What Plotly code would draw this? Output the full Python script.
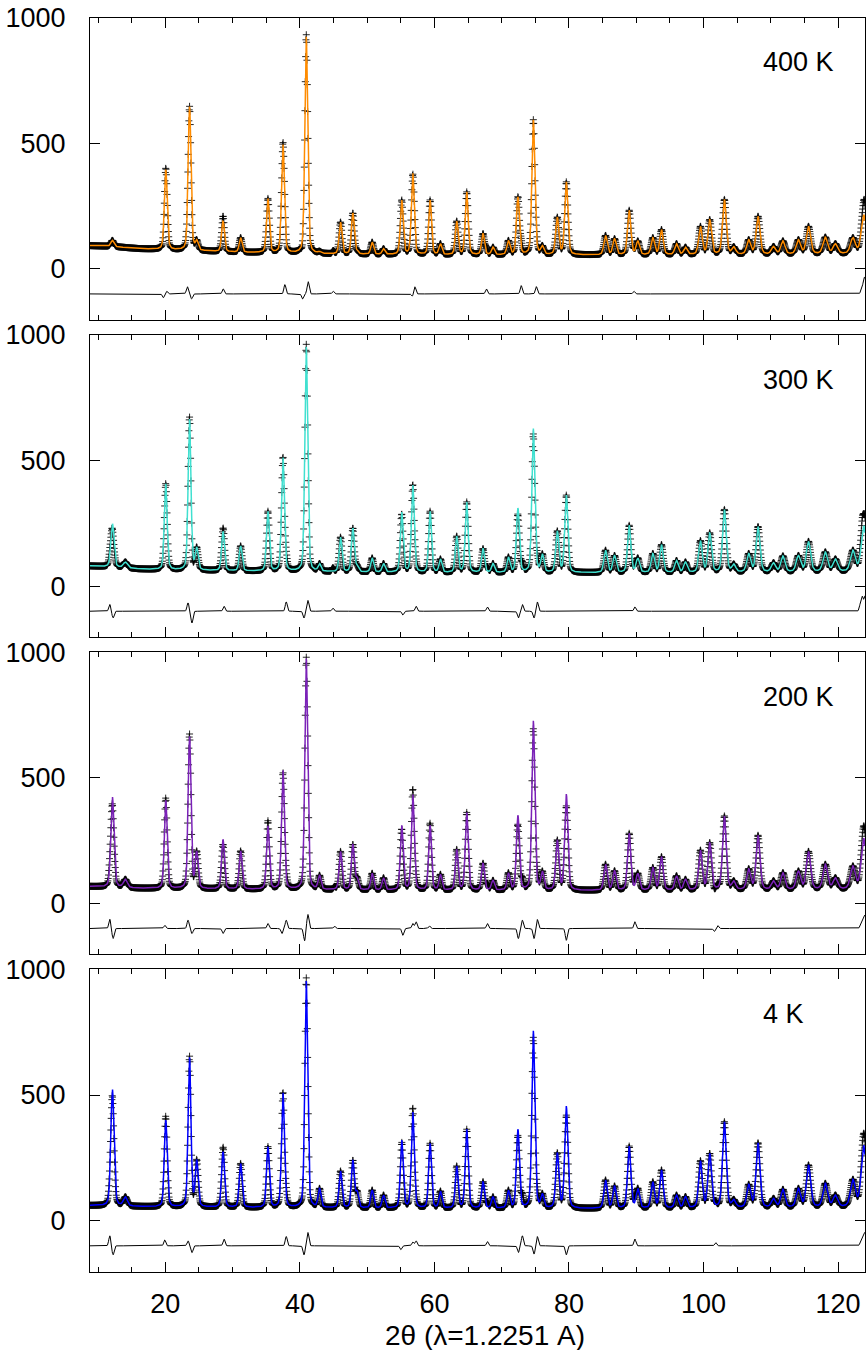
import numpy as np
import plotly.graph_objects as go

# ---------------- data ----------------
temps = ["400 K", "300 K", "200 K", "4 K"]
calc_colors = ["#ff8c00", "#40e0d0", "#7b22b8", "#0000ff"]

x_ticks = [20, 40, 60, 80, 100, 120]
y_ticks = [0, 500, 1000]
x_title = "2θ (λ=1.2251 A)"

# Bragg peak positions (2theta, deg) and widths (FWHM, deg)
peak_pos = [12.13, 14.06, 20.06, 23.60, 24.66, 28.57, 31.19, 35.25, 37.48, 40.94,
            42.92, 46.04, 47.87, 48.50, 50.74, 52.43, 55.14, 56.78, 59.35, 60.89,
            63.31, 64.80, 67.22, 68.70, 70.99, 72.41, 74.70, 76.04, 78.26, 79.60,
            85.43, 86.77, 88.95, 90.23, 92.46, 93.75, 95.98, 97.31, 99.54, 100.92,
            103.10, 104.50, 106.71, 108.10, 110.40, 111.80, 114.10, 115.60, 118.10, 119.60,
            122.20, 123.80]
peak_fwhm = [0.55, 0.7, 0.5, 0.5, 0.5, 0.5, 0.5, 0.5, 0.5, 0.5,
             0.5, 0.5, 0.5, 0.5, 0.5, 0.5, 0.5, 0.5, 0.5, 0.5,
             0.5, 0.52, 0.52, 0.52, 0.52, 0.52, 0.52, 0.52, 0.55, 0.55,
             0.58, 0.58, 0.58, 0.58, 0.6, 0.6, 0.6, 0.6, 0.62, 0.62,
             0.65, 0.65, 0.68, 0.68, 0.72, 0.72, 0.75, 0.75, 0.8, 0.8,
             0.85, 0.85]

# peak-top intensities for each temperature
top_400K = [113, 82, 395, 646, 116, 190, 124, 280, 497, 924,
            70, 186, 222, 75, 106, 80, 274, 382, 274, 100,
            190, 306, 140, 86, 113, 287, 593, 93, 206, 346,
            133, 120, 233, 111, 124, 156, 100, 86, 169, 196,
            276, 88, 116, 209, 89, 111, 116, 169, 126, 100,
            124, 215]
top_300K = [249, 96, 408, 665, 156, 218, 160, 298, 514, 953,
            90, 195, 231, 85, 112, 90, 295, 404, 298, 108,
            199, 335, 149, 90, 116, 311, 627, 129, 220, 362,
            143, 122, 242, 112, 130, 165, 102, 96, 181, 212,
            305, 88, 130, 237, 93, 120, 122, 178, 136, 108,
            143, 240]
top_200K = [425, 96, 411, 665, 209, 255, 209, 309, 532, 976,
            112, 207, 235, 105, 120, 102, 311, 435, 311, 116,
            215, 362, 160, 92, 122, 351, 727, 129, 253, 435,
            156, 130, 279, 120, 143, 186, 110, 96, 212, 242,
            348, 90, 138, 271, 90, 122, 129, 207, 156, 102,
            149, 260]
top_4K = [524, 95, 401, 650, 244, 275, 228, 295, 511, 955,
          129, 198, 241, 120, 122, 102, 321, 434, 308, 118,
          218, 364, 155, 95, 122, 364, 756, 109, 271, 456,
          162, 138, 297, 129, 155, 202, 102, 96, 239, 268,
          394, 85, 145, 310, 89, 125, 129, 222, 149, 102,
          165, 300]

# background levels at knots
bg_knots = [8.8, 12, 16, 20, 30, 45, 60, 90, 110, 124]
bg_400K = [92, 89, 80, 76, 66, 58, 55, 55, 57, 60]
bg_300K = [80, 76, 68, 64, 60, 56, 53, 53, 55, 58]
bg_200K = [67, 64, 60, 58, 56, 53, 51, 51, 53, 56]
bg_4K = [60, 58, 56, 54, 52, 50, 48, 48, 51, 55]

# difference curve features (obs - calc) : positions and signed amplitudes
diff_pos_400K = [19.7, 20.2, 23.27, 23.92, 28.6, 37.77, 40.4, 41.23, 44.95, 56.73, 57.08,
                 67.72, 72.9, 75.15, 89.64, 123.5, 123.8, 124.0]
diff_amp_400K = [-15, 10, 29, -20, 20, 37, -20, 49, 11, -10, 29,
                 20, 33, 29, 11, 20, 35, 47]
diff_pos_300K = [11.74, 12.23, 23.37, 23.96, 28.72, 37.97, 40.6, 41.19, 44.9, 55.3, 57.27,
                 67.87, 72.47, 73.07, 74.8, 75.29, 89.79, 123.3, 123.6, 124.0]
diff_amp_300K = [27, -27, 33, -47, 20, 37, -27, 43, 13, -15, 20,
                 17, -27, 27, -27, 37, 17, 25, 55, 60]
diff_pos_200K = [11.74, 12.23, 19.91, 23.37, 23.96, 28.57, 35.25, 37.33, 37.97, 40.69, 41.19,
                 45.15, 55.3, 56.78, 57.27, 59.25, 67.87, 72.47, 73.07, 74.8, 75.29, 79.6,
                 89.79, 101.6, 102.1, 123.4, 123.7, 124.0]
diff_amp_200K = [37, -40, 13, 33, -20, -20, 20, -20, 33, -49, 56,
                 9, -27, 20, 27, 10, 20, -40, 33, -40, 36, -47,
                 27, -12, 12, 20, 35, 47]
diff_pos_4K = [11.74, 12.23, 19.91, 23.37, 23.96, 28.72, 37.97, 40.6, 41.19, 55.0, 56.78, 57.27,
               67.87, 72.47, 73.07, 74.8, 75.29, 79.6, 89.79, 101.8, 123.4, 123.7, 124.0]
diff_amp_4K = [40, -36, 23, 20, -27, 27, 37, -36, 53, -15, 15, 20,
               17, -27, 40, -33, 37, -36, 27, 13, 20, 35, 47]

diff_offset = -100
x_range = [8.8, 124.0]
y_range = [-203, 1000]
label_x = 108.5
label_y = 821

tops = [top_400K, top_300K, top_200K, top_4K]
bgs = [bg_400K, bg_300K, bg_200K, bg_4K]
dpos = [diff_pos_400K, diff_pos_300K, diff_pos_200K, diff_pos_4K]
damp = [diff_amp_400K, diff_amp_300K, diff_amp_200K, diff_amp_4K]

# ---------------- profile construction ----------------
tt = np.arange(8.8, 124.0001, 0.05)
P = np.array(peak_pos)
W = np.array(peak_fwhm)


def pv(x, x0, w, eta=0.3):
    u = (x - x0) / w
    return eta / (1 + 4 * u ** 2) + (1 - eta) * np.exp(-4 * np.log(2) * u ** 2)


M = pv(P[:, None], P[None, :], W[None, :])

FONT = "Liberation Sans, Arial, sans-serif"
fig = go.Figure()
H = 1350.0
MT, MB = 10.0, 20.0
PH = H - MT - MB
tops_px = [17.5 + 317.3 * k for k in range(4)]
panel_h = 302.3


def frac(py):
    return (H - MB - py) / PH


for k in range(4):
    bg_tt = np.interp(tt, bg_knots, bgs[k])
    bg_p = np.interp(P, bg_knots, bgs[k])
    target = np.array(tops[k], float) - bg_p
    amps = np.linalg.solve(M, target)
    amps = np.clip(amps, 0, None)
    calc = bg_tt + (amps[None, :] * pv(tt[:, None], P[None, :], W[None, :])).sum(axis=1)
    dfeat = np.zeros_like(tt)
    for p0, a0 in zip(dpos[k], damp[k]):
        dfeat += a0 * np.exp(-0.5 * ((tt - p0) / 0.15) ** 2)
    obs = calc + dfeat
    diff = diff_offset + dfeat

    xa = "x" if k == 0 else f"x{k+1}"
    ya = "y" if k == 0 else f"y{k+1}"
    fig.add_trace(go.Scatter(x=tt, y=obs, mode="markers", xaxis=xa, yaxis=ya,
                             marker=dict(symbol="cross-thin", size=5,
                                         line=dict(width=1, color="rgba(0,0,0,0.85)")),
                             hoverinfo="skip"))
    fig.add_trace(go.Scatter(x=tt, y=calc, mode="lines", xaxis=xa, yaxis=ya,
                             line=dict(color=calc_colors[k], width=1.5), hoverinfo="skip"))
    fig.add_trace(go.Scatter(x=tt, y=diff, mode="lines", xaxis=xa, yaxis=ya,
                             line=dict(color="black", width=1), hoverinfo="skip"))

    top = tops_px[k]
    bot = top + panel_h
    dom = [frac(bot), frac(top)]
    xkey = "xaxis" if k == 0 else f"xaxis{k+1}"
    ykey = "yaxis" if k == 0 else f"yaxis{k+1}"
    fig.update_layout({
        xkey: dict(domain=[0, 1], anchor=ya, range=x_range, showline=True, linecolor="black",
                   linewidth=1, mirror="ticks", ticks="inside", ticklen=10, tickwidth=1,
                   tickcolor="black", tickvals=x_ticks, showticklabels=(k == 3),
                   showgrid=False, zeroline=False, ticklabelstandoff=8, automargin=False,
                   tickfont=dict(size=27, color="black", family=FONT),
                   minor=dict(dtick=5, tick0=0, ticks="inside", ticklen=5, tickcolor="black",
                              tickwidth=1, showgrid=False)),
        ykey: dict(domain=dom, anchor=xa, range=y_range, showline=True, linecolor="black",
                   linewidth=1, mirror="ticks", ticks="inside", ticklen=10, tickwidth=1,
                   tickcolor="black", tickvals=y_ticks, showgrid=False, zeroline=False,
                   ticklabelstandoff=18, automargin=False,
                   tickfont=dict(size=27, color="black", family=FONT)),
    })
    fig.add_annotation(x=label_x, y=label_y, xref=xa, yref=ya, text=temps[k],
                       showarrow=False, xanchor="left", yanchor="middle",
                       font=dict(size=27, color="black", family=FONT))

fig.add_annotation(x=(485 - 90) / 775.0, y=frac(1335), xref="paper", yref="paper",
                   text=x_title, showarrow=False, xanchor="center", yanchor="middle",
                   font=dict(size=28, color="black", family=FONT))

fig.update_layout(width=866, height=1350, margin=dict(l=90, r=1, t=MT, b=MB),
                  paper_bgcolor="white", plot_bgcolor="white", showlegend=False)

fig.write_html("out.html")
